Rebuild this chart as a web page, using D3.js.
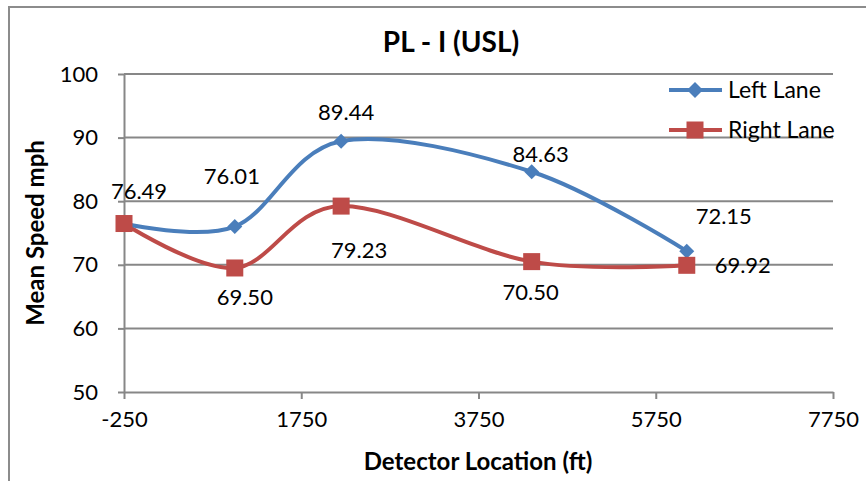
<!DOCTYPE html>
<html>
<head>
<meta charset="utf-8">
<style>
  body{margin:0;background:#fff}
  #chart text{font-family:Lato,"Open Sans",sans-serif;fill:#000}
  .grid line{stroke:#878787;stroke-width:2px}
  .axis path,.axis line{stroke:#878787;stroke-width:2px}
  .axis text{font-size:22px}
  .lbl{font-size:22px}
  .leg{font-size:23px}
</style>
</head>
<body>
<div id="chart"></div>
<script src="https://d3js.org/d3.v7.min.js"></script>
<script>
(function () {

  // data
  var locations  = [-250, 1000, 2200, 4350, 6100];
  var leftLane   = [76.49, 76.01, 89.44, 84.63, 72.15];
  var rightLane  = [76.49, 69.50, 79.23, 70.50, 69.92];
  var xTicks     = [-250, 1750, 3750, 5750, 7750];
  var yTicks     = [50, 60, 70, 80, 90, 100];
  var seriesNames = ['Left Lane', 'Right Lane'];

  var
    width  = 866,
    height = 481,
    blue   = '#4a7ebb',
    red    = '#be4b48';

  var svg = d3.select('#chart').append('svg')
    .attr('width', width)
    .attr('height', height);

  // outer border
  svg.append('path')
    .attr('d', 'M9,' + (height + 5) + 'V7H' + (width + 5))
    .attr('fill', 'none')
    .attr('stroke', '#8c8c8c')
    .attr('stroke-width', 2);

  var x = d3.scaleLinear().domain([-250, 7750]).range([124, 833]);
  var y = d3.scaleLinear().domain([50, 100]).range([392, 74]);

  // horizontal grid
  svg.append('g').attr('class', 'grid')
    .selectAll('line').data(yTicks.slice(1)).enter().append('line')
    .attr('x1', x(-250)).attr('x2', x(7750))
    .attr('y1', function (d) { return y(d); })
    .attr('y2', function (d) { return y(d); });

  // y axis
  svg.append('g').attr('class', 'axis')
    .attr('transform', 'translate(' + x(-250) + ',0)')
    .call(d3.axisLeft(y).tickValues(yTicks).tickSize(6).tickPadding(20).tickSizeOuter(0));

  // x axis
  var xAxis = svg.append('g').attr('class', 'axis')
    .attr('transform', 'translate(0,' + y(50) + ')')
    .call(d3.axisBottom(x).tickValues(xTicks).tickSize(7).tickPadding(12).tickSizeOuter(0)
      .tickFormat(function (d) { return String(d); }));
  xAxis.selectAll('text').attr('dy', '0.71em');

  // titles
  svg.append('text')
    .attr('x', 451).attr('y', 52)
    .attr('text-anchor', 'middle')
    .style('font-size', '28px').style('font-weight', 'bold')
    .text('PL - I (USL)');

  svg.append('text')
    .attr('x', 478).attr('y', 470)
    .attr('text-anchor', 'middle')
    .style('font-size', '24px').style('font-weight', 'bold')
    .text('Detector Location (ft)');

  svg.append('text')
    .attr('transform', 'translate(44,233) rotate(-90)')
    .attr('text-anchor', 'middle')
    .style('font-size', '24px').style('font-weight', 'bold')
    .text('Mean Speed mph');

  var line = d3.line()
    .x(function (d, i) { return x(locations[i]); })
    .y(function (d) { return y(d); })
    .curve(d3.curveCardinal.tension(0));

  function diamond(sel, cx, cy, r, col) {
    sel.append('path')
      .attr('d', 'M' + cx + ',' + (cy - r) + 'L' + (cx + r) + ',' + cy +
        'L' + cx + ',' + (cy + r) + 'L' + (cx - r) + ',' + cy + 'Z')
      .attr('fill', col);
  }
  function square(sel, cx, cy, s, col) {
    sel.append('rect')
      .attr('x', cx - s / 2).attr('y', cy - s / 2)
      .attr('width', s).attr('height', s)
      .attr('fill', col);
  }

  var g = svg.append('g');

  // right lane (drawn first, left lane on top at shared point)
  g.append('path').attr('d', line(rightLane))
    .attr('fill', 'none').attr('stroke', red).attr('stroke-width', 4);
  g.append('path').attr('d', line(leftLane))
    .attr('fill', 'none').attr('stroke', blue).attr('stroke-width', 4);

  leftLane.forEach(function (v, i) { diamond(g, x(locations[i]), y(v), 7.5, blue); });
  rightLane.forEach(function (v, i) { square(g, x(locations[i]), y(v), 17, red); });

  // data labels, offsets from each point [dx, dy]
  var leftOff  = [[15, -25], [-3, -43], [5, -21], [9, -10], [37, -27]];
  var rightOff = [null, [10, 37], [18, 52], [-1, 38], [56, 8]];

  function labels(vals, offs) {
    vals.forEach(function (v, i) {
      if (!offs[i]) return;
      svg.append('text').attr('class', 'lbl')
        .attr('x', x(locations[i]) + offs[i][0])
        .attr('y', y(v) + offs[i][1])
        .attr('text-anchor', 'middle')
        .text(v.toFixed(2));
    });
  }
  labels(leftLane, leftOff);
  labels(rightLane, rightOff);

  // legend
  var lg = svg.append('g');
  [blue, red].forEach(function (col, i) {
    var ly = 90 + i * 40;
    lg.append('line')
      .attr('x1', 669).attr('x2', 722).attr('y1', ly).attr('y2', ly)
      .attr('stroke', col).attr('stroke-width', 4);
    if (i === 0) diamond(lg, 695, ly, 8, col); else square(lg, 695, ly, 17, col);
    lg.append('text').attr('class', 'leg')
      .attr('x', 728).attr('y', ly + 8)
      .text(seriesNames[i]);
  });

})();
</script>
</body>
</html>
